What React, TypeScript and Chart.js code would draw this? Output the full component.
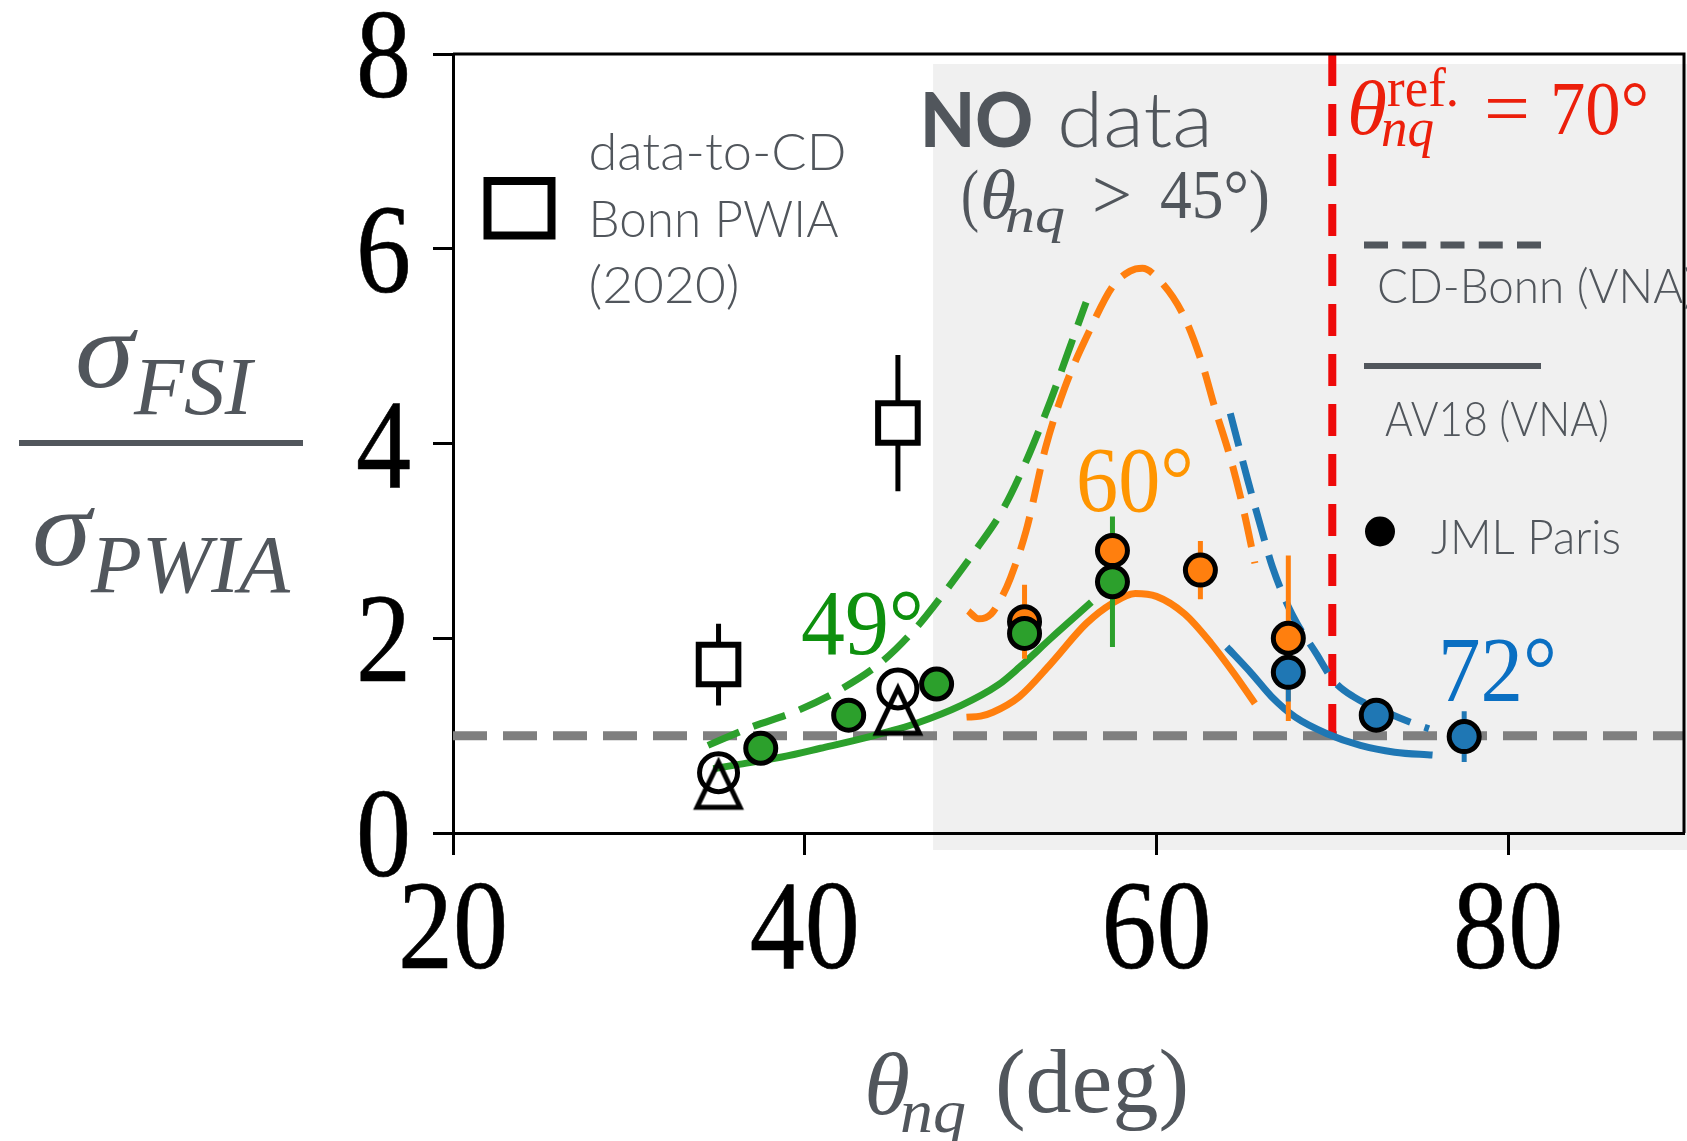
import React, { useEffect, useRef } from "react";
import { Chart, registerables } from "chart.js";
Chart.register(...registerables);

// ---------- data ----------
const X_TICKS = [20, 40, 60, 80];
const Y_TICKS = [0, 2, 4, 6, 8];
const X_MIN = 20, X_MAX = 90, Y_MIN = 0, Y_MAX = 8;

// Calculations: CD-Bonn (VNA) dashed, AV18 (VNA) solid, per theta_nq^ref
const GREEN_CDB_X = [34.5, 37.0, 39.5, 42.0, 44.4, 46.4, 47.9, 49.7, 51.2, 52.5, 54.0, 55.0, 56.0];
const GREEN_CDB_Y = [0.90, 1.09, 1.25, 1.47, 1.76, 2.12, 2.46, 2.90, 3.30, 3.78, 4.45, 4.95, 5.45];
const GREEN_AV18_X = [34.8, 36.1, 38.7, 40.9, 43.7, 46.4, 48.9, 51.0, 52.2, 54.0, 56.3];
const GREEN_AV18_Y = [0.66, 0.70, 0.78, 0.87, 0.99, 1.13, 1.31, 1.52, 1.70, 2.00, 2.37];
const ORANGE_CDB_X = [49.3, 49.9, 50.6, 51.2, 51.7, 52.6, 53.7, 54.8, 56.2, 57.5, 58.5, 59.2, 60.0, 61.5, 62.6, 63.3, 64.3, 65.0, 65.6];
const ORANGE_CDB_Y = [2.28, 2.20, 2.25, 2.42, 2.62, 3.11, 3.96, 4.58, 5.16, 5.61, 5.77, 5.80, 5.71, 5.33, 4.82, 4.38, 3.79, 3.28, 2.77];
const ORANGE_AV18_X = [49.2, 50.0, 50.7, 52.2, 54.0, 56.0, 57.5, 58.8, 60.0, 61.6, 63.1, 64.4, 65.6];
const ORANGE_AV18_Y = [1.19, 1.20, 1.24, 1.40, 1.74, 2.15, 2.36, 2.46, 2.43, 2.25, 1.95, 1.64, 1.33];
const BLUE_CDB_X = [64.2, 65.2, 66.0, 66.6, 67.7, 69.1, 70.05, 71.2, 73.2, 74.7, 75.5];
const BLUE_CDB_Y = [4.31, 3.62, 3.10, 2.73, 2.25, 1.84, 1.57, 1.40, 1.23, 1.12, 1.07];
const BLUE_AV18_X = [64.0, 65.4, 66.55, 67.9, 69.7, 71.6, 73.55, 75.7];
const BLUE_AV18_Y = [1.91, 1.64, 1.40, 1.19, 1.02, 0.90, 0.83, 0.80];

// JML Paris data
const JML_GREEN_X = [37.5, 42.5, 47.5, 52.5, 57.5];
const JML_GREEN_Y = [0.87, 1.21, 1.53, 2.05, 2.58];
const JML_GREEN_ERR = [0.05, 0.05, 0.05, 0.08, 0.67];
const JML_ORANGE_X = [52.5, 57.5, 62.5, 67.5];
const JML_ORANGE_Y = [2.17, 2.90, 2.70, 2.00];
const JML_ORANGE_ERR = [0.38, 0.2, 0.30, 0.85];
const JML_BLUE_X = [67.5, 72.5, 77.5];
const JML_BLUE_Y = [1.65, 1.21, 0.99];
const JML_BLUE_ERR = [0.3, 0.1, 0.26];

// data-to-CD Bonn PWIA (2020)
const SQ_X = [35.1, 45.3];
const SQ_Y = [1.73, 4.21];
const SQ_ERR = [0.42, 0.70];
// other black markers
const OPEN_CIRCLE_X = [35.1, 45.3];
const OPEN_CIRCLE_Y = [0.62, 1.48];
const TRIANGLE_X = [35.1, 45.3];
const TRIANGLE_Y = [0.50, 1.26];

const UNITY_Y = 1;
const REF_THETA = 70;
const NO_DATA_FROM = 47.3;

// ---------- helpers ----------
const pts = (xs: number[], ys: number[]) => xs.map((x, i) => ({ x, y: ys[i] }));
const bars = (xs: number[], ys: number[], es: number[]) =>
  xs.flatMap((x, i) => [
    { x, y: ys[i] - es[i] },
    { x, y: ys[i] + es[i] },
    { x, y: null as any },
  ]);

const GREEN = "#2ca02c";
const ORANGE = "#ff7f0e";
const BLUE = "#1f77b4";
const GRAYTXT = "#51565c";
const SERIF = '"Liberation Serif", serif';
const SANS = 'Lato, "Noto Sans", sans-serif';

type Seg = { t: string; x: number; y: number; font: string; color: string; w?: number; sx?: number; align?: "left" | "center" | "right"; bold?: number };
function drawSeg(ctx: CanvasRenderingContext2D, s: Seg) {
  ctx.save();
  ctx.font = s.font;
  ctx.fillStyle = s.color;
  ctx.textBaseline = "alphabetic";
  ctx.textAlign = "left";
  const m = ctx.measureText(s.t).width;
  const sx = s.w ? s.w / m : s.sx ?? 1;
  const wEff = m * sx;
  let x0 = s.x;
  if (s.align === "center") x0 = s.x - wEff / 2;
  else if (s.align === "right") x0 = s.x - wEff;
  ctx.translate(x0, s.y);
  ctx.scale(sx, 1);
  ctx.fillText(s.t, 0, 0);
  if (s.bold) {
    ctx.strokeStyle = s.color;
    ctx.lineWidth = s.bold;
    ctx.lineJoin = "round";
    ctx.strokeText(s.t, 0, 0);
  }
  ctx.restore();
}

function triangleImage(): HTMLCanvasElement {
  const c = document.createElement("canvas");
  c.width = 60;
  c.height = 60;
  const g = c.getContext("2d") as CanvasRenderingContext2D;
  g.strokeStyle = "#000";
  g.lineWidth = 5;
  g.lineJoin = "miter";
  g.beginPath();
  g.moveTo(30, 8);
  g.lineTo(8.5, 53);
  g.lineTo(51.5, 53);
  g.closePath();
  g.stroke();
  return c;
}

const curve = (label: string, xs: number[], ys: number[], color: string, dashed: boolean) => ({
  type: "line" as const,
  label,
  data: pts(xs, ys),
  showLine: true,
  borderColor: color,
  borderWidth: 7,
  borderDash: dashed ? [34, 15] : [],
  borderCapStyle: "butt" as const,
  pointRadius: 0,
  cubicInterpolationMode: "monotone" as const,
  order: 80,
});

const errDs = (label: string, data: any[], color: string, width: number, order: number) => ({
  type: "line" as const,
  label,
  data,
  showLine: true,
  spanGaps: false,
  borderColor: color,
  borderWidth: width,
  pointRadius: 0,
  order,
});

const marker = (label: string, xs: number[], ys: number[], style: any, r: number, fill: string, bw: number, order: number) => ({
  type: "scatter" as const,
  label,
  data: pts(xs, ys),
  pointStyle: style,
  pointRadius: r,
  pointHoverRadius: r,
  backgroundColor: fill,
  borderColor: "#000",
  borderWidth: bw,
  pointBorderWidth: bw,
  order,
});

const decoPlugin = {
  id: "deco",
  beforeDraw(chart: any) {
    const { ctx, chartArea: a, scales } = chart;
    ctx.save();
    ctx.fillStyle = "#ffffff";
    ctx.fillRect(0, 0, chart.width, chart.height);
    const gx = scales.x.getPixelForValue(NO_DATA_FROM);
    ctx.fillStyle = "#f0f0f0";
    ctx.fillRect(gx, a.top + 10, chart.width - gx, a.bottom + 17 - (a.top + 10));
    ctx.restore();
  },
  afterDatasetsDraw(chart: any) {
    const { ctx, chartArea: a } = chart;
    ctx.save();
    ctx.strokeStyle = "#000";
    ctx.lineWidth = 3;
    ctx.beginPath();
    ctx.moveTo(a.left, a.top);
    ctx.lineTo(a.right, a.top);
    ctx.lineTo(a.right, a.bottom);
    ctx.stroke();
    ctx.restore();
  },
  afterDraw(chart: any) {
    const { ctx, scales } = chart;
    const xs = scales.x, ys = scales.y;
    // tick labels
    xs.ticks.forEach((t: any) => {
      drawSeg(ctx, { t: String(t.value), x: xs.getPixelForValue(t.value), y: 968, font: `128px ${SERIF}`, color: "#000", sx: 0.86, align: "center", bold: 0.6 });
    });
    ys.ticks.forEach((t: any) => {
      drawSeg(ctx, { t: String(t.value), x: 411, y: ys.getPixelForValue(t.value) + 43, font: `128px ${SERIF}`, color: "#000", sx: 0.86, align: "right", bold: 0.6 });
    });
    const segs: Seg[] = [
      // y title
      { t: "σ", x: 75, y: 387, font: `italic 110px ${SERIF}`, color: GRAYTXT, w: 59 },
      { t: "FSI", x: 134, y: 414, font: `italic 82px ${SERIF}`, color: GRAYTXT, w: 118 },
      { t: "σ", x: 32, y: 565, font: `italic 110px ${SERIF}`, color: GRAYTXT, w: 59 },
      { t: "PWIA", x: 91, y: 592, font: `italic 82px ${SERIF}`, color: GRAYTXT, w: 199 },
      // x title
      { t: "θ", x: 864, y: 1114, font: `italic 88px ${SERIF}`, color: GRAYTXT, w: 46 },
      { t: "nq", x: 900, y: 1132, font: `italic 62px ${SERIF}`, color: GRAYTXT, w: 66 },
      { t: "(deg)", x: 995, y: 1112, font: `91px ${SERIF}`, color: GRAYTXT, w: 194 },
      // curve labels
      { t: "49°", x: 801, y: 654, font: `94px ${SERIF}`, color: "#0e900e", w: 123 },
      { t: "60°", x: 1076, y: 511, font: `94px ${SERIF}`, color: "#ff9500", w: 118 },
      { t: "72°", x: 1438, y: 701, font: `94px ${SERIF}`, color: "#0a6fc2", w: 119 },
      // NO data
      { t: "NO", x: 920, y: 147, font: `900 76px ${SANS}`, color: GRAYTXT, w: 113 },
      { t: "data", x: 1057, y: 147, font: `300 76px ${SANS}`, color: GRAYTXT, w: 156 },
      { t: "(", x: 961, y: 218, font: `70px ${SERIF}`, color: GRAYTXT, w: 18 },
      { t: "θ", x: 980, y: 218, font: `italic 70px ${SERIF}`, color: GRAYTXT, w: 36 },
      { t: "nq", x: 1005, y: 232, font: `italic 50px ${SERIF}`, color: GRAYTXT, w: 60 },
      { t: ">", x: 1092, y: 218, font: `70px ${SERIF}`, color: GRAYTXT, w: 40 },
      { t: "45°)", x: 1160, y: 218, font: `70px ${SERIF}`, color: GRAYTXT, w: 110 },
      // reference angle
      { t: "θ", x: 1347, y: 134, font: `italic 77px ${SERIF}`, color: "#ec1f0b", w: 40 },
      { t: "ref.", x: 1387, y: 106, font: `54px ${SERIF}`, color: "#ec1f0b", w: 72 },
      { t: "nq", x: 1381, y: 146, font: `italic 55px ${SERIF}`, color: "#ec1f0b", w: 53 },
      { t: "=", x: 1484, y: 134, font: `77px ${SERIF}`, color: "#ec1f0b", w: 46 },
      { t: "70°", x: 1550, y: 134, font: `77px ${SERIF}`, color: "#ec1f0b", w: 99 },
      // left legend
      { t: "data-to-CD", x: 588.5, y: 170, font: `300 52px ${SANS}`, color: GRAYTXT, w: 258 },
      { t: "Bonn PWIA", x: 588.5, y: 237, font: `300 52px ${SANS}`, color: GRAYTXT, w: 250 },
      { t: "(2020)", x: 588.5, y: 303, font: `300 52px ${SANS}`, color: GRAYTXT, w: 151 },
      // right legend
      { t: "CD-Bonn (VNA)", x: 1377, y: 303, font: `300 48px ${SANS}`, color: GRAYTXT, w: 318 },
      { t: "AV18 (VNA)", x: 1385, y: 436, font: `300 48px ${SANS}`, color: GRAYTXT, w: 224 },
      { t: "JML Paris", x: 1431, y: 554, font: `300 48px ${SANS}`, color: GRAYTXT, w: 190 },
    ];
    segs.forEach((s) => drawSeg(ctx, s));
    ctx.save();
    // fraction bar
    ctx.fillStyle = GRAYTXT;
    ctx.fillRect(19, 440, 284, 6);
    // legend square
    ctx.strokeStyle = "#000";
    ctx.lineWidth = 8;
    ctx.strokeRect(487.5, 181, 64, 54.5);
    // legend lines
    ctx.strokeStyle = GRAYTXT;
    ctx.lineWidth = 7;
    ctx.setLineDash([24, 14.25]);
    ctx.beginPath();
    ctx.moveTo(1364, 245);
    ctx.lineTo(1541, 245);
    ctx.stroke();
    ctx.setLineDash([]);
    ctx.lineWidth = 6;
    ctx.beginPath();
    ctx.moveTo(1364, 366);
    ctx.lineTo(1541, 366);
    ctx.stroke();
    // legend dot
    ctx.fillStyle = "#000";
    ctx.beginPath();
    ctx.arc(1380, 531.5, 15, 0, Math.PI * 2);
    ctx.fill();
    ctx.restore();
  },
};

export default function App() {
  const ref = useRef<HTMLCanvasElement>(null);
  useEffect(() => {
    document.body.style.margin = "0";
    document.body.style.overflow = "hidden";
    const tri = triangleImage();
    const cfg: any = {
      type: "scatter",
      data: {
        datasets: [
          marker("triangles", TRIANGLE_X, TRIANGLE_Y, tri, 24, "rgba(0,0,0,0)", 0, 5),
          marker("open circles", OPEN_CIRCLE_X, OPEN_CIRCLE_Y, "circle", 19, "rgba(0,0,0,0)", 5, 6),
          marker("JML 49", JML_GREEN_X, JML_GREEN_Y, "circle", 15, GREEN, 5, 20),
          marker("JML 72", JML_BLUE_X, JML_BLUE_Y, "circle", 15, BLUE, 5, 25),
          marker("JML 60", JML_ORANGE_X, JML_ORANGE_Y, "circle", 15, ORANGE, 5, 30),
          marker("data-to-CD Bonn PWIA (2020)", SQ_X, SQ_Y, "rect", 28, "#ffffff", 6, 40),
          errDs("err 49", bars(JML_GREEN_X, JML_GREEN_Y, JML_GREEN_ERR), GREEN, 5, 50),
          errDs("err 72", bars(JML_BLUE_X, JML_BLUE_Y, JML_BLUE_ERR), BLUE, 5, 52),
          errDs("err 60", bars(JML_ORANGE_X, JML_ORANGE_Y, JML_ORANGE_ERR), ORANGE, 5, 54),
          errDs("err sq", bars(SQ_X, SQ_Y, SQ_ERR), "#000", 5, 56),
          curve("CD-Bonn 49", GREEN_CDB_X, GREEN_CDB_Y, GREEN, true),
          curve("AV18 49", GREEN_AV18_X, GREEN_AV18_Y, GREEN, false),
          curve("CD-Bonn 60", ORANGE_CDB_X, ORANGE_CDB_Y, ORANGE, true),
          curve("AV18 60", ORANGE_AV18_X, ORANGE_AV18_Y, ORANGE, false),
          curve("CD-Bonn 72", BLUE_CDB_X, BLUE_CDB_Y, BLUE, true),
          curve("AV18 72", BLUE_AV18_X, BLUE_AV18_Y, BLUE, false),
          {
            type: "line",
            label: "ref",
            data: [{ x: REF_THETA, y: Y_MAX }, { x: REF_THETA, y: UNITY_Y }],
            showLine: true,
            borderColor: "#ee0a0a",
            borderWidth: 8,
            borderDash: [32, 18],
            pointRadius: 0,
            order: 90,
          },
          {
            type: "line",
            label: "unity",
            data: [{ x: X_MIN, y: UNITY_Y }, { x: X_MAX, y: UNITY_Y }],
            showLine: true,
            borderColor: "#7f7f7f",
            borderWidth: 9,
            borderDash: [34, 16],
            pointRadius: 0,
            order: 100,
          },
        ],
      },
      options: {
        responsive: false,
        animation: false,
        devicePixelRatio: 1,
        layout: { autoPadding: false, padding: { left: 0, top: 54, right: 3, bottom: 0 } },
        plugins: { legend: { display: false }, tooltip: { enabled: false } },
        events: [],
        scales: {
          x: {
            type: "linear",
            min: X_MIN,
            max: X_MAX,
            afterBuildTicks: (s: any) => { s.ticks = X_TICKS.map((v) => ({ value: v })); },
            afterFit: (s: any) => { s.height = 308; },
            ticks: { display: false },
            grid: { display: true, drawOnChartArea: false, drawTicks: true, tickLength: 22, tickWidth: 3, tickColor: "#000" },
            border: { display: true, color: "#000", width: 3 },
          },
          y: {
            type: "linear",
            min: Y_MIN,
            max: Y_MAX,
            afterBuildTicks: (s: any) => { s.ticks = Y_TICKS.map((v) => ({ value: v })); },
            afterFit: (s: any) => { s.width = 453; },
            ticks: { display: false },
            grid: { display: true, drawOnChartArea: false, drawTicks: true, tickLength: 20, tickWidth: 3, tickColor: "#000" },
            border: { display: true, color: "#000", width: 3 },
          },
        },
      },
      plugins: [decoPlugin],
    };
    const chart = new Chart(ref.current as HTMLCanvasElement, cfg);
    return () => chart.destroy();
  }, []);
  return (
    <div style={{ position: "absolute", left: 0, top: 0, width: 1687, height: 1141, background: "#fff" }}>
      <canvas ref={ref} width={1687} height={1141} style={{ display: "block", width: 1687, height: 1141 }} />
    </div>
  );
}
